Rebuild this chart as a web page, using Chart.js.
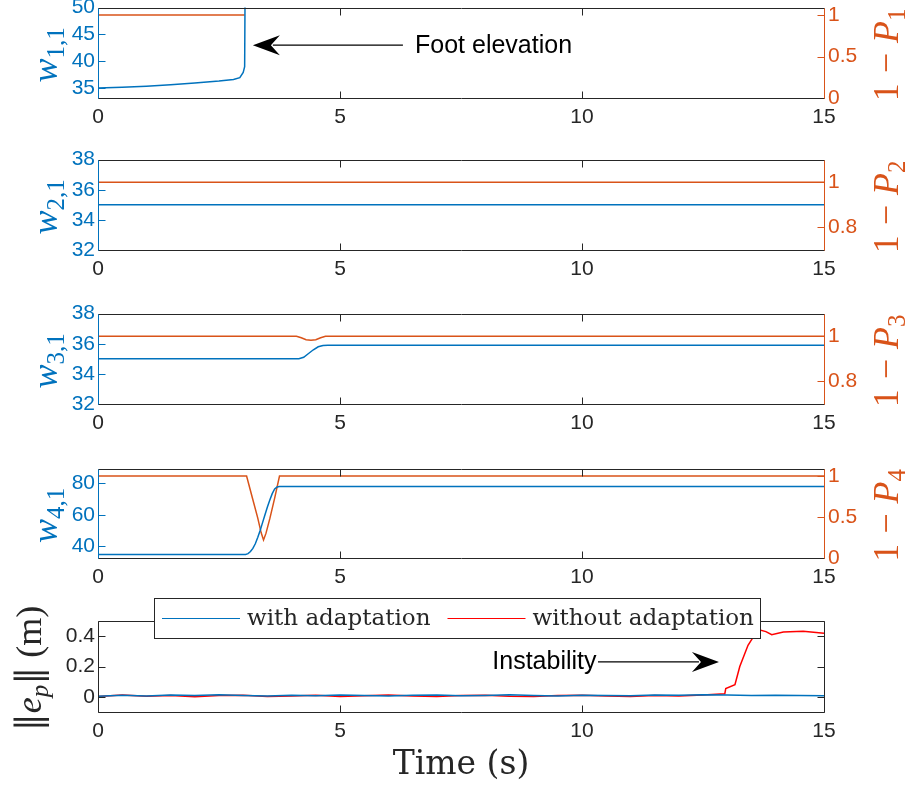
<!DOCTYPE html>
<html lang="en">

<head>
  <title>Weights and tracking error</title>
  <script src="https://cdn.jsdelivr.net/npm/chart.js"></script>
  <style>
    body { margin: 0; background: #fff; overflow: hidden; }
    #wrap { position: relative; width: 908px; height: 789px; }
    #wrap canvas { position: absolute; left: 0; }
  </style>
</head>

<body>
  <div id="wrap"></div>
  <script>
    // ---- data ----
    const xTicks = [0, 5, 10, 15];

    // panel 1
    const tW11 = [0, 0.5, 1.0, 1.5, 2.0, 2.5, 2.8, 2.93, 3.0, 3.03, 3.04];
    const w11 = [35.0, 35.15, 35.35, 35.6, 35.95, 36.3, 36.6, 36.95, 37.9, 39.0, 55.0];
    const tP1 = [0, 3.03];
    const p1 = [1, 1];

    // panel 2
    const tW21 = [0, 15];
    const w21 = [35, 35];
    const tP2 = [0, 15];
    const p2 = [1, 1];

    // panel 3
    const tW31 = [0, 4.15, 4.25, 4.35, 4.45, 4.55, 4.65, 4.75, 15];
    const w31 = [35, 35, 35.1, 35.35, 35.6, 35.8, 35.88, 35.9, 35.9];
    const tP3 = [0, 4.1, 4.2, 4.3, 4.4, 4.5, 4.6, 4.7, 15];
    const p3 = [1, 1, 0.993, 0.984, 0.982, 0.984, 0.993, 1, 1];

    // panel 4
    const tW41 = [0, 3.05, 3.1, 3.15, 3.2, 3.25, 3.3, 3.35, 3.4, 3.45, 3.5, 3.55, 3.6, 3.65, 3.7, 3.75, 15];
    const w41 = [34.7, 34.7, 35.2, 36.5, 38.5, 41.5, 45.5, 50, 55, 60, 65, 69.5, 73.5, 76.5, 77.8, 78.1, 78.1];
    const tP4 = [0, 3.07, 3.2, 3.3, 3.37, 3.42, 3.47, 3.55, 3.65, 3.75, 15];
    const p4 = [1, 1, 0.71, 0.49, 0.31, 0.22, 0.3, 0.48, 0.73, 1, 1];

    // panel 5
    const tWith = [0, 0.5, 1, 1.5, 2, 2.5, 3, 3.5, 4, 4.5, 5, 5.5, 6, 6.5, 7, 7.5, 8, 8.5, 9, 9.5, 10, 10.5, 11, 11.5, 12, 12.5, 13, 13.5, 14, 14.5, 15];
    const eWith = [0.004, 0.010, 0.006, 0.012, 0.008, 0.014, 0.009, 0.006, 0.011, 0.007, 0.012, 0.008, 0.006, 0.010, 0.012, 0.007, 0.009, 0.013, 0.008, 0.006, 0.011, 0.009, 0.007, 0.012, 0.010, 0.014, 0.012, 0.009, 0.011, 0.008, 0.007];
    const tWithout = [0, 0.5, 1, 1.5, 2, 2.5, 3, 3.5, 4, 4.5, 5, 5.5, 6, 6.5, 7, 7.5, 8, 8.5, 9, 9.5, 10, 10.5, 11, 11.5, 12, 12.5, 12.95, 12.97, 13.16, 13.26, 13.43, 13.55, 13.68, 13.8, 13.92, 14.16, 14.57, 15];
    const eWithout = [0.002, 0.012, 0.004, 0.009, 0.001, 0.008, 0.011, 0.003, 0.006, 0.010, 0.002, 0.007, 0.012, 0.005, 0.003, 0.009, 0.011, 0.004, 0.002, 0.008, 0.010, 0.006, 0.003, 0.009, 0.005, 0.012, 0.02, 0.055, 0.08, 0.2, 0.34, 0.4, 0.44, 0.43, 0.41, 0.427, 0.433, 0.42];

    // ---- styling ----
    const AX = '#262626', BLUE = '#0072BD', ORANGE = '#D95319', RED = '#FF0000';
    const SANS = "'Liberation Sans', Arial, Helvetica, sans-serif";
    const MATH = "'Liberation Serif', 'DejaVu Serif', serif";
    const TEXT = "'DejaVu Serif', 'Liberation Serif', serif";
    const TICK_FONT = { family: SANS, size: 21 };
    const CW = 908, PL = 98, PR = 824, TL = 7;

    function pts(xs, ys) {
      return xs.map((x, i) => ({ x: x, y: ys[i] }));
    }

    function yAxis(spec, side) {
      return {
        position: side, min: spec.min, max: spec.max,
        afterBuildTicks: s => { s.ticks = spec.ticks.map(v => ({ value: v })); },
        afterFit: s => { s.width = side === 'left' ? PL : CW - PR; },
        grid: { display: false, drawTicks: false }, border: { display: false },
        ticks: { color: spec.color, font: TICK_FONT, padding: side === 'left' ? 3 : 4, callback: v => String(v) }
      };
    }

    // rotated math-ish label, reads bottom to top
    function drawMath(ctx, parts, cx, cy, size, color) {
      ctx.save();
      ctx.translate(cx, cy);
      ctx.rotate(-Math.PI / 2);
      ctx.fillStyle = color;
      ctx.textBaseline = 'alphabetic';
      const fontOf = p => (p.it ? 'italic ' : '') + Math.round(size * (p.sub ? 0.7 : 1)) + 'px ' + (p.family || MATH);
      let total = 0;
      parts.forEach(p => {
        ctx.font = fontOf(p);
        p.w = ctx.measureText(p.s).width + 2 * (p.gap || 0);
        total += p.w;
      });
      let x = -total / 2;
      parts.forEach(p => {
        ctx.font = fontOf(p);
        ctx.fillText(p.s, x + (p.gap || 0), size * 0.35 + (p.sub ? size * 0.2 : 0));
        x += p.w;
      });
      ctx.restore();
    }

    function drawArrow(ctx, x1, y1, x2, y2) {
      const ang = Math.atan2(y2 - y1, x2 - x1);
      ctx.save();
      ctx.strokeStyle = '#000';
      ctx.fillStyle = '#000';
      ctx.lineWidth = 1.3;
      ctx.beginPath();
      ctx.moveTo(x1, y1);
      ctx.lineTo(x2 - 20 * Math.cos(ang), y2 - 20 * Math.sin(ang));
      ctx.stroke();
      ctx.translate(x2, y2);
      ctx.rotate(ang);
      ctx.beginPath();
      ctx.moveTo(0, 0);
      ctx.lineTo(-27, -10);
      ctx.lineTo(-18, 0);
      ctx.lineTo(-27, 10);
      ctx.closePath();
      ctx.fill();
      ctx.restore();
    }

    function buildPanel(cfg) {
      const padTop = cfg.padTop || 16;
      const cv = document.createElement('canvas');
      cv.width = CW;
      cv.height = padTop + (cfg.bottom - cfg.top) + cfg.xAxisH;
      cv.style.top = (cfg.top - padTop) + 'px';
      document.getElementById('wrap').appendChild(cv);

      const scales = {
        x: {
          type: 'linear', min: 0, max: 15,
          afterBuildTicks: s => { s.ticks = xTicks.map(v => ({ value: v })); },
          afterFit: s => { s.height = cfg.xAxisH; },
          grid: { display: false, drawTicks: false }, border: { display: false },
          ticks: { color: AX, font: TICK_FONT, padding: 7, maxRotation: 0, callback: v => String(v) },
          title: cfg.xTitle ? { display: true, text: cfg.xTitle, color: AX, font: { family: TEXT, size: 33 }, padding: { top: 0, bottom: 4 } } : { display: false }
        },
        y: yAxis(cfg.left, 'left')
      };
      if (cfg.right) scales.y2 = yAxis(cfg.right, 'right');

      const rightColor = cfg.right ? cfg.right.color : AX;

      const frame = {
        id: 'frame',
        afterDatasetsDraw(chart) {
          const { ctx, chartArea: a } = chart;
          const sx = chart.scales.x, sy = chart.scales.y, sy2 = chart.scales.y2;
          const r = v => Math.round(v) + 0.5;
          const seg = (x1, y1, x2, y2, c) => {
            ctx.strokeStyle = c;
            ctx.beginPath(); ctx.moveTo(x1, y1); ctx.lineTo(x2, y2); ctx.stroke();
          };
          ctx.save();
          ctx.lineWidth = 1;
          const top = r(a.top), bot = r(a.bottom), lft = r(a.left), rgt = r(a.right);
          sx.ticks.forEach(tk => {
            const px = r(sx.getPixelForValue(tk.value));
            seg(px, bot, px, bot - TL, AX);
            seg(px, top, px, top + TL, AX);
          });
          sy.ticks.forEach(tk => {
            const py = r(sy.getPixelForValue(tk.value));
            seg(lft, py, lft + TL, py, cfg.left.color);
            if (!sy2) seg(rgt, py, rgt - TL, py, AX);
          });
          if (sy2) sy2.ticks.forEach(tk => {
            const py = r(sy2.getPixelForValue(tk.value));
            seg(rgt, py, rgt - TL, py, rightColor);
          });
          seg(lft, top, rgt, top, AX);
          seg(lft, bot, rgt, bot, AX);
          seg(lft, top, lft, bot, cfg.left.color);
          seg(rgt, top, rgt, bot, rightColor);
          ctx.restore();
        }
      };

      const labels = {
        id: 'labels',
        afterDraw(chart) {
          const a = chart.chartArea, ctx = chart.ctx;
          const cy = (a.top + a.bottom) / 2 + 2;
          drawMath(ctx, cfg.left.label, cfg.left.labelX || 44, cy, 36, cfg.left.color);
          if (cfg.right) drawMath(ctx, cfg.right.label, 885, cy, 36, cfg.right.color);
        }
      };

      const notes = {
        id: 'notes',
        afterDraw(chart) {
          const ctx = chart.ctx, sx = chart.scales.x, sy = chart.scales.y;
          (cfg.notes || []).forEach(n => {
            drawArrow(ctx, sx.getPixelForValue(n.from[0]), sy.getPixelForValue(n.from[1]),
              sx.getPixelForValue(n.to[0]), sy.getPixelForValue(n.to[1]));
            ctx.save();
            ctx.fillStyle = '#000';
            ctx.font = '25px ' + SANS;
            ctx.textAlign = n.align;
            ctx.textBaseline = 'middle';
            ctx.fillText(n.text, sx.getPixelForValue(n.at[0]), sy.getPixelForValue(n.at[1]));
            ctx.restore();
          });
        }
      };

      const legendBox = {
        id: 'legendBox',
        afterDraw(chart) {
          if (!cfg.legend) return;
          const ctx = chart.ctx, b = cfg.legend;
          ctx.save();
          ctx.fillStyle = '#fff';
          ctx.fillRect(b.left, b.top, b.right - b.left, b.bottom - b.top);
          ctx.strokeStyle = AX;
          ctx.lineWidth = 1;
          ctx.strokeRect(b.left + 0.5, b.top + 0.5, b.right - b.left, b.bottom - b.top);
          ctx.font = '23px ' + TEXT;
          ctx.textBaseline = 'middle';
          const cy = (b.top + b.bottom) / 2;
          let x = b.left + 8;
          chart.data.datasets.forEach(ds => {
            ctx.strokeStyle = ds.borderColor;
            ctx.lineWidth = 1.2;
            ctx.beginPath(); ctx.moveTo(x, cy + 0.5); ctx.lineTo(x + 78, cy + 0.5); ctx.stroke();
            ctx.fillStyle = AX;
            ctx.fillText(ds.label, x + 85, cy + 1);
            x += 85 + ctx.measureText(ds.label).width + 17;
          });
          ctx.restore();
        }
      };

      return new Chart(cv, {
        type: 'line',
        data: {
          datasets: cfg.series.map(s => ({
            label: s.label, data: pts(s.x, s.y), yAxisID: s.axis || 'y',
            borderColor: s.color, borderWidth: 1.5, pointRadius: 0, tension: 0, fill: false
          }))
        },
        options: {
          responsive: false, animation: false,
          layout: { padding: { top: padTop, bottom: 0, left: 0, right: cfg.right ? 0 : CW - PR } },
          plugins: { legend: { display: false }, tooltip: { enabled: false } },
          scales: scales
        },
        plugins: [frame, labels, notes, legendBox]
      });
    }

    const rightLabel = k => [{ s: '1' }, { s: '\u2212', gap: 10 }, { s: 'P', it: true }, { s: String(k), sub: true }];
    const leftLabel = k => [{ s: 'w', it: true }, { s: k + ',1', sub: true }];

    buildPanel({
      top: 7, bottom: 98, xAxisH: 44,
      left: { min: 33.15, max: 50, ticks: [35, 40, 45, 50], color: BLUE, label: leftLabel(1) },
      right: { min: 0, max: 1.09, ticks: [0, 0.5, 1], color: ORANGE, label: rightLabel(1) },
      series: [
        { label: 'w11', x: tW11, y: w11, color: BLUE },
        { label: '1-P1', x: tP1, y: p1, color: ORANGE, axis: 'y2' }
      ],
      notes: [{ text: 'Foot elevation', at: [6.55, 42.8], align: 'left', from: [6.3, 43], to: [3.2, 43] }]
    });

    buildPanel({
      top: 159, bottom: 250, xAxisH: 44,
      left: { min: 32, max: 38, ticks: [32, 34, 36, 38], color: BLUE, label: leftLabel(2) },
      right: { min: 0.7, max: 1.1, ticks: [0.8, 1], color: ORANGE, label: rightLabel(2) },
      series: [
        { label: 'w21', x: tW21, y: w21, color: BLUE },
        { label: '1-P2', x: tP2, y: p2, color: ORANGE, axis: 'y2' }
      ]
    });

    buildPanel({
      top: 313, bottom: 404, xAxisH: 44,
      left: { min: 32, max: 38, ticks: [32, 34, 36, 38], color: BLUE, label: leftLabel(3) },
      right: { min: 0.7, max: 1.1, ticks: [0.8, 1], color: ORANGE, label: rightLabel(3) },
      series: [
        { label: 'w31', x: tW31, y: w31, color: BLUE },
        { label: '1-P3', x: tP3, y: p3, color: ORANGE, axis: 'y2' }
      ]
    });

    buildPanel({
      top: 468, bottom: 558, xAxisH: 44,
      left: { min: 32.4, max: 89.5, ticks: [40, 60, 80], color: BLUE, label: leftLabel(4) },
      right: { min: 0, max: 1.09, ticks: [0, 0.5, 1], color: ORANGE, label: rightLabel(4) },
      series: [
        { label: 'w41', x: tW41, y: w41, color: BLUE },
        { label: '1-P4', x: tP4, y: p4, color: ORANGE, axis: 'y2' }
      ]
    });

    buildPanel({
      top: 621, bottom: 712, xAxisH: 77, padTop: 31, xTitle: 'Time (s)',
      left: {
        min: -0.1, max: 0.5, ticks: [0, 0.2, 0.4], color: AX, labelX: 28,
        label: [{ s: '\u2016', family: TEXT }, { s: 'e', it: true }, { s: 'p', it: true, sub: true }, { s: '\u2016', family: TEXT }, { s: ' (m)' }]
      },
      right: null,
      legend: { left: 154, top: 8, right: 760, bottom: 48 },
      series: [
        { label: 'with adaptation', x: tWith, y: eWith, color: BLUE },
        { label: 'without adaptation', x: tWithout, y: eWithout, color: RED }
      ],
      notes: [{ text: 'Instability', at: [10.3, 0.23], align: 'right', from: [10.33, 0.23], to: [12.83, 0.23] }]
    });
  </script>
</body>

</html>
